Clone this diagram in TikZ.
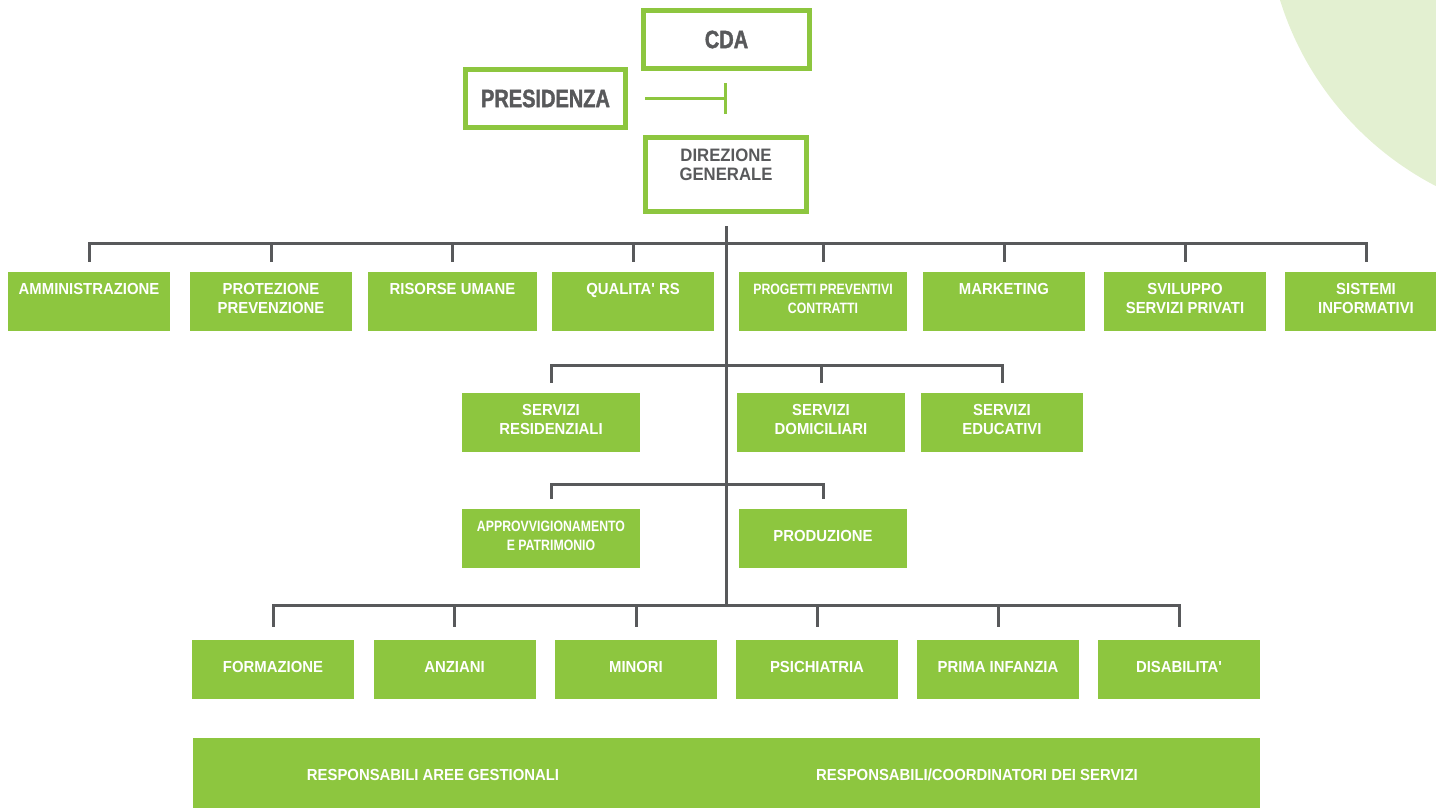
\documentclass[tikz,border=0pt]{standalone}
\usepackage{fontspec}
\setmainfont{Liberation Sans}
\newfontfamily\boxfont{Liberation Sans}[FakeStretch=0.93]
\newfontfamily\narrowfont{Liberation Sans}[FakeStretch=0.82]
\newfontfamily\headfont{Liberation Sans}[FakeStretch=0.8, FakeBold=1.5]
\usetikzlibrary{arrows.meta,positioning}
\definecolor{leaf}{HTML}{8DC63F}
\definecolor{pale}{HTML}{E3F0D1}
\definecolor{slate}{HTML}{58595B}

\begin{document}
\begin{tikzpicture}[x=1pt,y=-1pt,
    head/.style = {draw=leaf, line width=5pt, fill=white, text=slate, inner sep=0pt, align=center},
    unit/.style = {fill=leaf, text=white, minimum width=162pt, minimum height=59pt, inner sep=0pt,
                   align=center, text depth=6pt, font=\boxfont\bfseries\fontsize{16}{19}\selectfont},
    tight/.style = {unit, font=\narrowfont\bfseries\fontsize{15}{19}\selectfont},
    caption/.style = {text=white, inner sep=0pt, font=\boxfont\bfseries\fontsize{16}{19}\selectfont},
    link/.style = {draw=slate, line width=3pt},
    drop/.style = {link, shorten >=10pt}]
    \useasboundingbox (0,0) rectangle (1436,808);
    % background arc
    \begin{scope}
        \clip (0,0) rectangle (1436,808);
        \fill[pale] (1580,-93) circle (314pt);
    \end{scope}

    % top of the chart
    \node[head, minimum width=166pt, minimum height=58pt, font=\headfont\bfseries\fontsize{25}{25}\selectfont] (cda) at (726.5,39.5) {CDA};
    \node[head, minimum width=160pt, minimum height=58pt, font=\headfont\bfseries\fontsize{25}{25}\selectfont] (pres) at (545.5,98.5) {PRESIDENZA};
    \node[head, minimum width=161pt, minimum height=74pt, font=\boxfont\bfseries\fontsize{18}{19}\selectfont] (dg) at (726,174.5) {DIREZIONE\\GENERALE\\\mbox{}};
    \draw[leaf, line width=3pt, shorten <=17pt, -{Bar[width=30pt,line width=3pt]}] (pres.east) -- (pres.east -| cda.center);

    % staff functions
    \node[unit] (amm) at (89,301.5) {AMMINISTRAZIONE\\\mbox{}};
    \node[unit] (prot) at (271,301.5) {PROTEZIONE\\PREVENZIONE};
    \node[unit, minimum width=169pt] (ris) at (452.5,301.5) {RISORSE UMANE\\\mbox{}};
    \node[unit] (qual) at (633,301.5) {QUALITA' RS\\\mbox{}};
    \node[tight, minimum width=168pt] (prog) at (823,301.5) {PROGETTI PREVENTIVI\\CONTRATTI};
    \node[unit] (mark) at (1004,301.5) {MARKETING\\\mbox{}};
    \node[unit] (svil) at (1185,301.5) {SVILUPPO\\SERVIZI PRIVATI};
    \node[unit] (sist) at (1366,301.5) {SISTEMI\\INFORMATIVI};

    % service lines
    \node[unit, minimum width=178pt] (res) at (551,422.5) {SERVIZI\\RESIDENZIALI};
    \node[unit, minimum width=168pt] (dom) at (821,422.5) {SERVIZI\\DOMICILIARI};
    \node[unit] (edu) at (1002,422.5) {SERVIZI\\EDUCATIVI};

    \node[tight, minimum width=178pt] (appr) at (551,538.5) {APPROVVIGIONAMENTO\\E PATRIMONIO};
    \node[unit, minimum width=168pt] (prod) at (823,538.5) {PRODUZIONE};

    % areas
    \node[unit] (form) at (273,669.5) {FORMAZIONE};
    \node[unit] (anz) at (454.5,669.5) {ANZIANI};
    \node[unit] (min) at (636,669.5) {MINORI};
    \node[unit] (psi) at (817,669.5) {PSICHIATRIA};
    \node[unit] (prim) at (998,669.5) {PRIMA INFANZIA};
    \node[unit] (dis) at (1179,669.5) {DISABILITA'};

    \node[unit, minimum width=1067pt, minimum height=70pt] (band) at (726.5,773) {};
    \node[caption] (gest) at (433,775) {RESPONSABILI AREE GESTIONALI};
    \node[caption] (coord) at (977,775) {RESPONSABILI/COORDINATORI DEI SERVIZI};

    % connectors
    \coordinate (hub1) at (726,243);
    \coordinate (hub2) at (726,365);
    \coordinate (hub3) at (726,484);
    \coordinate (hub4) at (726,605);
    \draw[link, shorten <=12pt] (dg.south) -- (hub4);
    \foreach \n in {amm,prot,ris,qual,prog,mark,svil,sist}
        \draw[drop] (hub1) -| (\n.north);
    \foreach \n in {res,dom,edu}
        \draw[drop] (hub2) -| (\n.north);
    \foreach \n in {appr,prod}
        \draw[drop] (hub3) -| (\n.north);
    \foreach \n in {form,anz,min,psi,prim,dis}
        \draw[drop, shorten >=13pt] (hub4) -| (\n.north);
\end{tikzpicture}
\end{document}
